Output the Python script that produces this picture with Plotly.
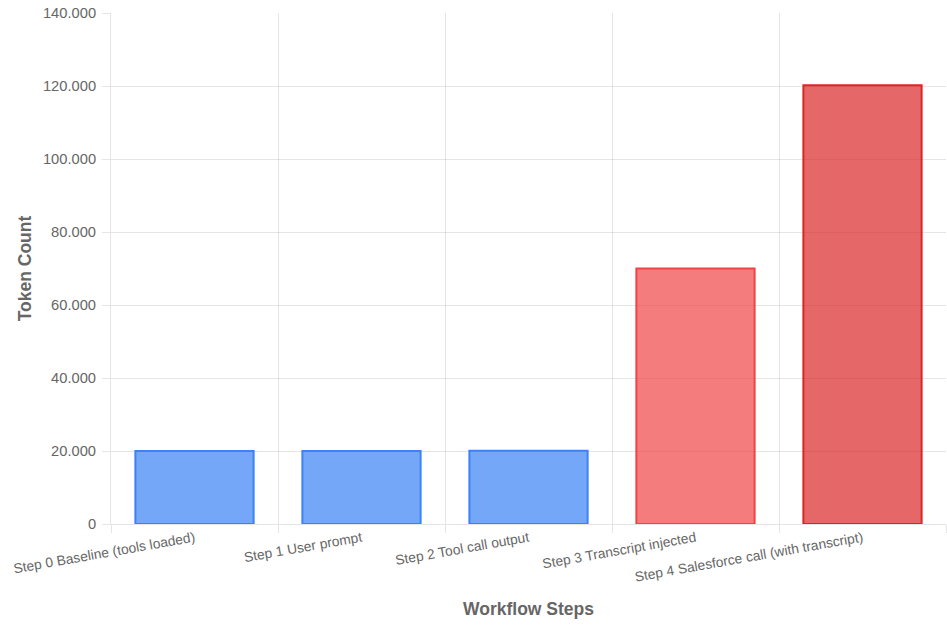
import plotly.graph_objects as go

categories = [
    "Step 0 Baseline (tools loaded)",
    "Step 1 User prompt",
    "Step 2 Tool call output",
    "Step 3 Transcript injected",
    "Step 4 Salesforce call (with transcript)",
]
token_counts = [20000, 20000, 20100, 70000, 120200]
fill_colors = [
    "rgba(59,130,246,0.7)",
    "rgba(59,130,246,0.7)",
    "rgba(59,130,246,0.7)",
    "rgba(239,68,68,0.7)",
    "rgba(220,38,38,0.7)",
]
border_colors = ["#3B82F6", "#3B82F6", "#3B82F6", "#EF4444", "#DC2626"]
y_ticks = [0, 20000, 40000, 60000, 80000, 100000, 120000, 140000]

x_pos = list(range(len(categories)))
grid = "rgba(0,0,0,0.1)"
font_family = "Liberation Sans, Arial, Helvetica, sans-serif"

fig = go.Figure(
    go.Bar(
        x=x_pos,
        y=token_counts,
        marker=dict(color=fill_colors, line=dict(color=border_colors, width=2)),
        hoverinfo="skip",
    )
)

fig.update_layout(
    width=947,
    height=625,
    margin=dict(l=111, r=1, t=13, b=101, autoexpand=False),
    plot_bgcolor="white",
    paper_bgcolor="white",
    bargap=0.292,
    separators=",.",
    showlegend=False,
    font=dict(family=font_family, color="#666666", size=12),
)

fig.update_xaxes(
    automargin=False,
    range=[-0.5, len(categories) - 0.5],
    tickmode="array",
    tickvals=x_pos,
    ticktext=categories,
    tickangle=-10,
    tickfont=dict(size=13.8, color="#666666"),
    showgrid=False,
    ticks="",
    showline=True,
    linecolor=grid,
    linewidth=1,
    zeroline=False,
    minor=dict(
        tickmode="array",
        tickvals=[i - 0.5 for i in range(len(categories) + 1)],
        showgrid=True,
        gridcolor=grid,
        gridwidth=1,
        ticks="outside",
        ticklen=8,
        tickcolor=grid,
    ),
    title=dict(text="<b>Workflow Steps</b>", font=dict(size=17.5, color="#666666"), standoff=19),
)

fig.update_yaxes(
    automargin=False,
    range=[0, 140000],
    tickmode="array",
    tickvals=y_ticks,
    tickformat=",d",
    tickfont=dict(size=14.7, color="#666666"),
    ticklabelstandoff=3,
    showgrid=True,
    gridcolor=grid,
    gridwidth=1,
    ticks="outside",
    ticklen=8,
    tickcolor=grid,
    showline=True,
    linecolor=grid,
    linewidth=1,
    zeroline=False,
    title=dict(text="<b>Token Count</b>", font=dict(size=17.5, color="#666666"), standoff=6),
)

post = (
    "document.body.style.margin='0';"
    "document.body.style.overflow='hidden';"
    "var gd=document.getElementById('{plot_id}');"
    "Plotly.relayout(gd,{width:947,height:625});"
)

fig.write_html(
    "out.html",
    post_script=post,
    config={"responsive": False, "displayModeBar": False},
)
